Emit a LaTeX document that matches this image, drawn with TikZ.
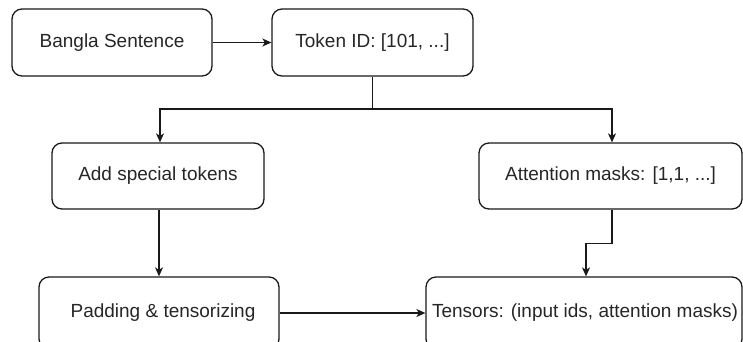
\documentclass[tikz,border=0pt]{standalone}
\usepackage{fontspec}
\setmainfont{Liberation Sans}
\usetikzlibrary{arrows.meta}
\begin{document}
\begin{tikzpicture}[x=1pt,y=-1pt,
  box/.style={draw=black!90, line width=1.3pt, rounded corners=10pt,
    inner sep=0pt, font=\fontsize{19}{22}\selectfont, text=black!85},
  arr/.style={draw=black!90, line width=1.3pt,
    -{Stealth[length=9pt,width=8pt,inset=2.5pt]}},
  link/.style={draw=black!90, line width=1.3pt}]
  \useasboundingbox (0,0) rectangle (743,341);
  \clip (0,0) rectangle (743,341);

  % top row
  \node[box, minimum width=200pt, minimum height=67pt] (sent) at (112,42.5) {Bangla Sentence};
  \node[box, minimum width=201pt, minimum height=67pt] (tok) at (372.5,42.5) {Token ID: [101, ...]};

  % middle row
  \node[box, minimum width=212pt, minimum height=66pt] (spec) at (158,176) {Add special tokens};
  \node[box, minimum width=263pt, minimum height=66pt] (mask) at (610.5,176) {Attention masks: [1,1, ...]};

  % bottom row (runs past the lower edge)
  \node[box, minimum width=240pt, minimum height=72pt] (pad) at (159,313) {\hspace*{8pt}Padding \& tensorizing};
  \node[box, minimum width=316pt, minimum height=72pt] (tens) at (584,313) {\hspace*{2pt}Tensors: (input ids, attention masks)};

  % connectors
  \coordinate (split) at (372.5,109);
  \draw[arr] (sent.east) -- (tok.west);
  \draw[link] (tok.south) -- (split);
  \draw[arr] (split) -| ([xshift=2pt]spec.north);
  \draw[arr] (split) -| ([xshift=1.5pt]mask.north);
  \draw[arr] ([xshift=1pt]spec.south) -- ([xshift=1pt]spec.south |- pad.north);
  \draw[arr] ([xshift=1.5pt]mask.south) -- ++(0,34) -| ([xshift=2pt]tens.north);
  \draw[arr] (pad.east) -- (tens.west);
\end{tikzpicture}
\end{document}
